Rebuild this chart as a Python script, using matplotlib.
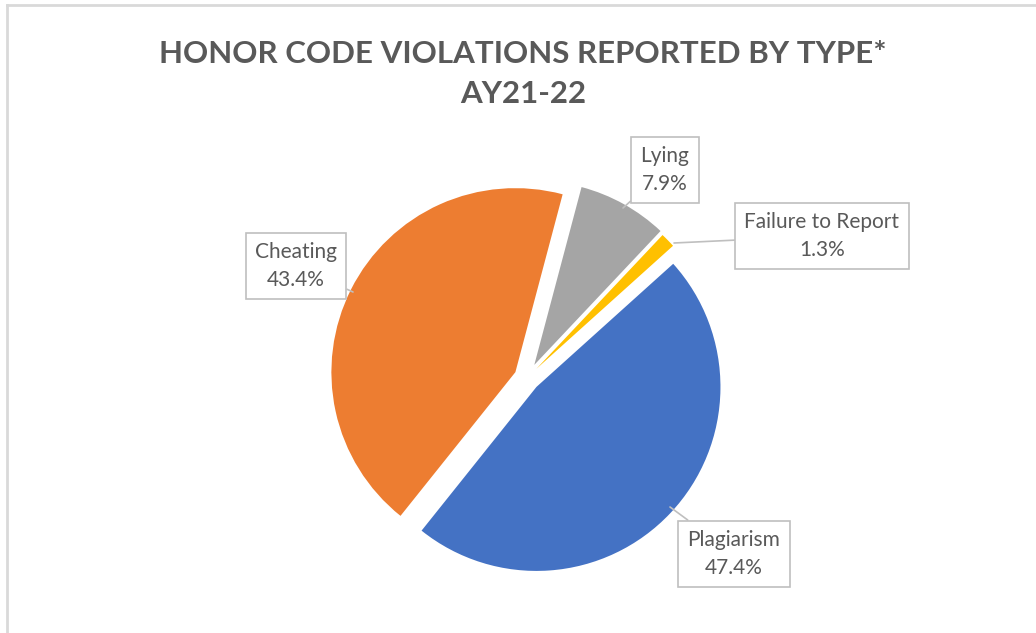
import matplotlib.pyplot as plt
from matplotlib.lines import Line2D

labels = ["Plagiarism", "Cheating", "Lying", "Failure to Report"]
values = [47.4, 43.4, 7.9, 1.3]
colors = ["#4472C4", "#ED7D31", "#A5A5A5", "#FFC000"]

plt.rcParams["font.family"] = ["Lato", "DejaVu Sans"]

fig = plt.figure(figsize=(10.36, 6.33), dpi=100)
ax = fig.add_axes([0, 0, 1, 1])

# pie in pixel-like coords (y measured from bottom); explode is in same units
wedges, _ = ax.pie(values, colors=colors, startangle=42, counterclock=False,
                   explode=[13, 13, 15, 13], center=(527, 255), radius=184,
                   wedgeprops=dict(linewidth=0), frame=True)
ax.set_xlim(0, 1036)
ax.set_ylim(0, 633)
ax.axis("off")

# label boxes: text position, point on slice
label_pos = [((734, 633 - 554), (670, 633 - 507)),
             ((296, 633 - 266), (353, 633 - 292)),
             ((665, 633 - 170), (623, 633 - 208)),
             ((822, 633 - 236), (674, 633 - 243))]
for lab, val, (txt, pt) in zip(labels, values, label_pos):
    ax.annotate(f"{lab}\n{val}%", xy=pt, xytext=txt, ha="center", va="center",
                fontsize=15, color="#595959", linespacing=1.5,
                bbox=dict(boxstyle="square,pad=0.45", fc="white", ec="#BFBFBF", lw=1.2),
                arrowprops=dict(arrowstyle="-", color="#BFBFBF", lw=1.2,
                                shrinkA=0, shrinkB=0))

fig.text(0.505, 1 - 74 / 633, "HONOR CODE VIOLATIONS REPORTED BY TYPE*\nAY21-22",
         ha="center", va="center", fontsize=22.5, fontweight="bold",
         color="#595959", linespacing=1.55)

# chart border (left and top edges visible)
fig.add_artist(Line2D([7 / 1036, 7 / 1036], [0, 1 - 5 / 633], color="#D9D9D9", lw=2))
fig.add_artist(Line2D([7 / 1036, 1], [1 - 5 / 633, 1 - 5 / 633], color="#D9D9D9", lw=2))

fig.savefig("out.png", dpi=100, facecolor="white")
